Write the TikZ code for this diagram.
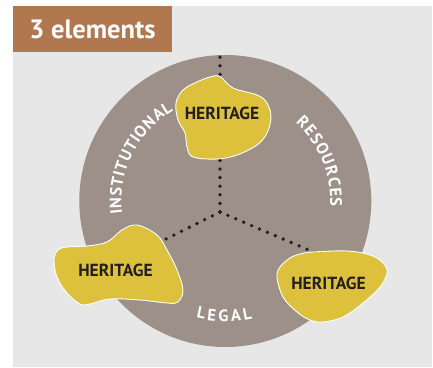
\documentclass[tikz,border=0pt]{standalone}
\usepackage{fontspec}
\setmainfont{PT Sans}
\usetikzlibrary{decorations.text}
\definecolor{panelc}{HTML}{E6E7E6}
\definecolor{titlec}{HTML}{B1784F}
\definecolor{circc}{HTML}{9D9089}
\definecolor{blobc}{HTML}{DDC03B}
\definecolor{darkc}{HTML}{231F20}
\newcommand{\lblfont}{\fontsize{16.5}{18}\selectfont\bfseries}
\tikzset{
  dotline/.style={line width=3.8pt, line cap=round, dash pattern=on 0pt off 8.6pt, draw=darkc},
  blob/.style={fill=blobc, draw=white, line width=0.9pt},
  herit/.style={font=\fontsize{17.5}{20}\selectfont\bfseries, text=darkc, inner sep=0pt},
  arclabel/.style={decorate, decoration={text effects along path, text={#1},
     text effects/.cd, text along path, fit text to path,
     every character/.append style={font=\lblfont, text=white}}}
}
\begin{document}
\begin{tikzpicture}[x=1pt,y=1pt]
\useasboundingbox (0,0) rectangle (433,367);
\fill[panelc] (13,0) rectangle (432,361);
\fill[titlec] (13,315) rectangle (172,361);
\node[anchor=base, text=white, font=\fontsize{26.5}{30}\selectfont\bfseries, inner sep=0pt] (title) at (92.5,328) {3 elements};
\fill[circc] (225.3,166) circle[radius=146];
% connectors
\coordinate (c) at (220,155);
\coordinate (ttop) at (220,312);
\coordinate (tleft) at (158,124);
\coordinate (tright) at (318,113);
\draw[dotline] (c) -- (ttop);
\draw[dotline] (c) -- (tleft);
\draw[dotline] (c) -- (tright);
% blobs
\draw[blob] plot[smooth cycle, tension=0.6] coordinates {
 (220,290.5) (233,279) (257,272) (267,264) (271,250) (267,234) (257,222)
 (237,212) (217,208) (193,210) (187,220) (185,234) (178,247) (176,264)
 (183,277) (197,285) (210,290)};
\draw[blob] plot[smooth cycle, tension=0.6] coordinates {
 (137,142) (157,132) (167,117) (177,97) (183,77) (178,65) (167,64) (140,67)
 (110,68) (90,63) (80,63) (67,74) (57,90) (54,107) (58,117) (67,120)
 (87,121) (107,125) (122,137)};
\draw[blob] plot[smooth cycle, tension=0.6] coordinates {
 (313,115) (347,116) (370,112) (383,104) (387,94) (380,80) (363,64) (343,50)
 (323,45) (310,47) (297,55) (283,70) (277,90) (280,100) (290,109) (300,113)};
\node[herit] (htop) at (222,254) {HERITAGE};
\node[herit] (hleft) at (115.5,97) {HERITAGE};
\node[herit] (hright) at (328.5,84) {HERITAGE};
% arc labels
\path[arclabel=INSTITUTIONAL]
  (225.3,166) ++(187:104) arc[start angle=187, end angle=120, radius=104];
\path[arclabel=RESOURCES]
  (225.3,166) ++(48:105) arc[start angle=48, end angle=-3, radius=105];
\path[arclabel=LEGAL]
  (225.3,166) ++(256:120.5) arc[start angle=256, end angle=283, radius=120.5];
\end{tikzpicture}
\end{document}
